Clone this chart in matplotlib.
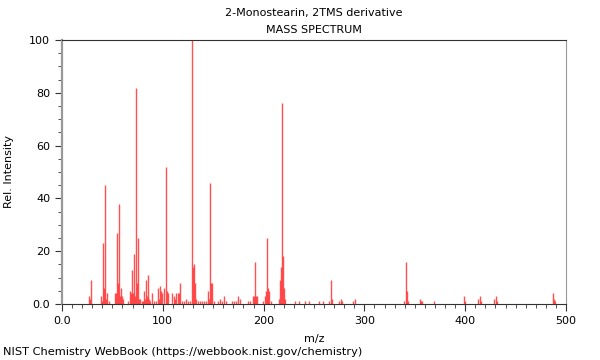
import matplotlib
matplotlib.use("Agg")
import matplotlib.pyplot as plt
from matplotlib.ticker import MultipleLocator, FuncFormatter

title_name = "2-Monostearin, 2TMS derivative"
title_kind = "MASS SPECTRUM"
x_label = "m/z"
y_label = "Rel. Intensity"
footer = "NIST Chemistry WebBook (https://webbook.nist.gov/chemistry)"

mz = [27, 28, 29, 39, 40, 41, 42, 43, 44, 45, 47,
      53, 54, 55, 56, 57, 58, 59, 60, 61,
      65, 67, 68, 69, 70, 71, 72, 73, 74, 75, 76, 77, 79,
      80, 81, 82, 83, 84, 85, 86, 87, 89, 91, 93,
      95, 96, 97, 98, 99, 101, 103, 104, 105,
      109, 111, 112, 113, 115, 116, 117, 119, 121, 123, 125, 127,
      129, 130, 131, 132, 133, 135, 137, 139, 141, 143,
      145, 146, 147, 148, 149, 151,
      155, 157, 159, 161, 163, 169, 171, 173, 175, 177,
      185, 187, 189, 190, 191, 192, 193,
      199, 201, 202, 203, 204, 205, 207,
      215, 216, 217, 218, 219, 220, 221,
      231, 235, 241, 245, 255, 259,
      265, 267, 268, 275, 277, 278, 289, 291,
      339, 341, 342, 343, 355, 356, 357, 369,
      399, 400, 413, 415, 416, 429, 431, 432, 487, 488, 489]
intensity = [3, 2, 9, 3, 1, 23, 6, 45, 2, 4, 1,
             4, 4, 27, 8, 38, 3, 6, 3, 2,
             1, 5, 4, 13, 4, 19, 3, 82, 8, 25, 2, 2, 1,
             1, 5, 2, 9, 3, 11, 2, 1, 4, 1, 1,
             6, 2, 7, 5, 4, 6, 52, 5, 4,
             4, 3, 2, 4, 4, 4, 8, 1, 1, 2, 1, 1,
             100, 14, 15, 8, 2, 1, 1, 1, 1, 1,
             5, 2, 46, 8, 8, 1,
             1, 2, 1, 3, 1, 1, 1, 1, 3, 2,
             1, 1, 3, 3, 16, 3, 3,
             1, 3, 5, 25, 6, 5, 1,
             2, 9, 14, 76, 18, 6, 2,
             1, 1, 1, 1, 1, 1,
             1, 9, 2, 1, 2, 1, 1, 2,
             1, 16, 5, 1, 2, 1, 1, 1,
             3, 1, 2, 3, 1, 2, 3, 1, 4, 2, 1]

fig = plt.figure(figsize=(6, 3.6), dpi=100)
ax = fig.add_axes([62/600, 56/360, 504/600, 264/360])
ax.vlines(mz, 0, intensity, colors="#ff3333", linewidth=1.0, alpha=0.85)

ax.set_xlim(0, 500)
ax.set_ylim(0, 100)
ax.xaxis.set_major_locator(MultipleLocator(100))
ax.xaxis.set_minor_locator(MultipleLocator(10))
ax.yaxis.set_major_locator(MultipleLocator(20))
ax.yaxis.set_minor_locator(MultipleLocator(5))
fmt = FuncFormatter(lambda v, p: "0.0" if v == 0 else f"{v:.0f}")
ax.xaxis.set_major_formatter(fmt)
ax.yaxis.set_major_formatter(fmt)
ax.tick_params(which="both", direction="out", labelsize=8, color="#333333")
ax.tick_params(which="major", length=5)
ax.tick_params(which="minor", length=3)
for s in ["top", "bottom"]:
    ax.spines[s].set_color("#333333")
ax.spines["left"].set_color("#999999")
ax.spines["left"].set_linewidth(1.6)
ax.spines["right"].set_color("#999999")

ax.set_xlabel(x_label, fontsize=8, labelpad=6)
ax.set_ylabel(y_label, fontsize=8, labelpad=11)
fig.text(314/600, 1 - 13/360, title_name, ha="center", va="center", fontsize=8)
fig.text(314/600, 1 - 30/360, title_kind, ha="center", va="center", fontsize=8)
fig.text(3/600, 1 - 352/360, footer, ha="left", va="center", fontsize=8.2)

fig.savefig("out.png", dpi=100)
